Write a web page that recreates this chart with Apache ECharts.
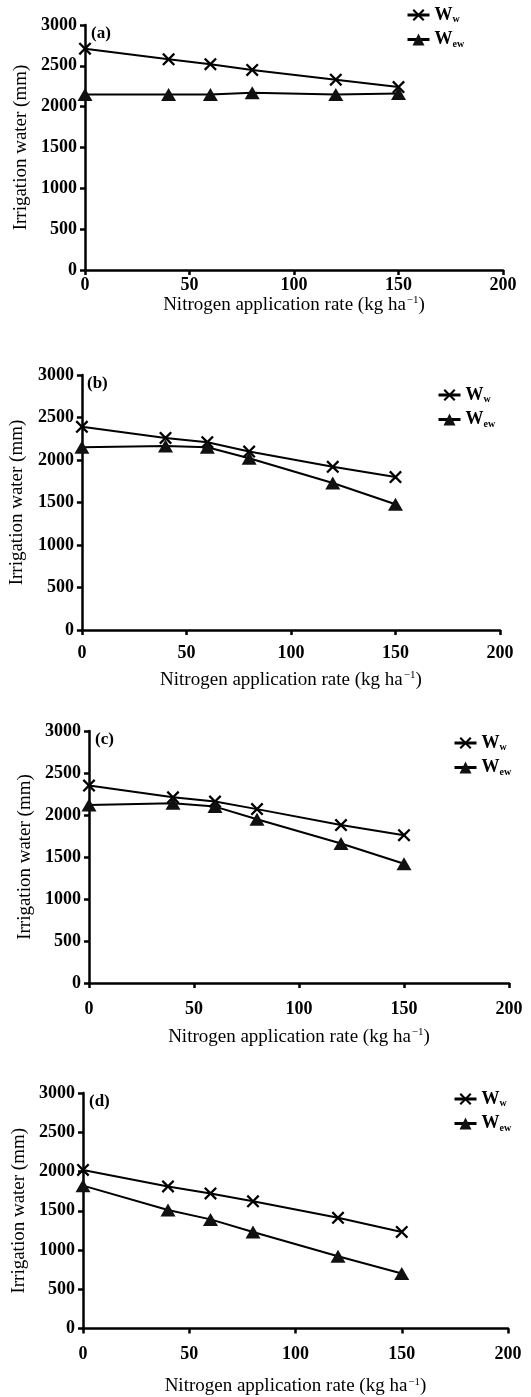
<!DOCTYPE html>
<html>
<head>
<meta charset="utf-8">
<script src="https://cdn.jsdelivr.net/npm/echarts@6/dist/echarts.min.js"></script>
<style>
    html, body { margin: 0; padding: 0; background: #fff; }
    #main { width: 531px; height: 1397px; }
</style>
</head>
<body>
<div id="main"></div>
<script>
// 施氮量 (kg/ha)
var nRate = [0, 40, 60, 80, 120, 150];
var xTicks = [0, 50, 100, 150, 200];
var yTicks = [0, 500, 1000, 1500, 2000, 2500, 3000];
var panelLabels = ['(a)', '(b)', '(c)', '(d)'];

// 各面板灌溉水量 (mm)
var wwA = [2710, 2580, 2520, 2450, 2330, 2240];
var wewA = [2150, 2150, 2150, 2170, 2150, 2160];
var wwB = [2390, 2260, 2210, 2100, 1920, 1800];
var wewB = [2150, 2165, 2150, 2020, 1730, 1480];
var wwC = [2350, 2210, 2160, 2070, 1880, 1760];
var wewC = [2120, 2140, 2100, 1950, 1660, 1420];
var wwD = [2020, 1810, 1720, 1620, 1410, 1230];
var wewD = [1820, 1510, 1390, 1230, 920, 700];

var wwData = [wwA, wwB, wwC, wwD];
var wewData = [wewA, wewB, wewC, wewD];

var FONT = '"Liberation Serif", "Times New Roman", serif';
var crossPath = 'path://M0,1.5L1.5,0L6,4.5L10.5,0L12,1.5L7.5,6L12,10.5L10.5,12L6,7.5L1.5,12L0,10.5L4.5,6Z';

// 网格位置
var grids = [
    {left: 85, top: 25, width: 418, height: 245},
    {left: 81, top: 375, width: 419, height: 255},
    {left: 89, top: 731, width: 420, height: 252},
    {left: 83, top: 1093, width: 425, height: 236}
];
var xNameGap = [21, 40, 44, 48];
var xLabelMargin = [6, 14, 17, 17];
var yNameGap = [45, 51, 48, 44];
var legendPos = [
    {left: 406, top: 6},
    {left: 437, top: 386},
    {left: 453, top: 734},
    {left: 453, top: 1090}
];

function pairs(xs, ys) {
    var out = [];
    for (var i = 0; i < xs.length; i++) {
        out.push([xs[i], ys[i]]);
    }
    return out;
}

var option = {
    animation: false,
    backgroundColor: '#fff',
    textStyle: {fontFamily: FONT, color: '#000'},
    grid: [],
    xAxis: [],
    yAxis: [],
    series: [],
    legend: [],
    title: []
};

for (var i = 0; i < 4; i++) {
    var g = grids[i];
    option.grid.push({left: g.left, top: g.top, width: g.width, height: g.height, containLabel: false});
    option.xAxis.push({
        type: 'value',
        gridIndex: i,
        min: xTicks[0],
        max: xTicks[xTicks.length - 1],
        interval: 50,
        name: '{t|Nitrogen application rate (kg ha}{s|\u22121}{t|)}',
        nameLocation: 'middle',
        nameGap: xNameGap[i],
        nameTextStyle: {
            rich: {
                t: {fontFamily: FONT, fontSize: 19, color: '#000'},
                s: {fontFamily: FONT, fontSize: 11, color: '#000', verticalAlign: 'top', padding: [0, 0, 9, 1]}
            }
        },
        axisLine: {lineStyle: {color: '#000', width: 2.5}},
        axisTick: {show: true, length: 5, lineStyle: {color: '#000', width: 2.5}},
        axisLabel: {
            fontFamily: FONT, fontSize: 18, fontWeight: 'bold', color: '#000', margin: xLabelMargin[i],
            formatter: function (v) { return String(v); }
        },
        splitLine: {show: false}
    });
    option.yAxis.push({
        type: 'value',
        gridIndex: i,
        min: yTicks[0],
        max: yTicks[yTicks.length - 1],
        interval: 500,
        name: 'Irrigation water (mm)',
        nameLocation: 'middle',
        nameGap: yNameGap[i],
        nameTextStyle: {fontFamily: FONT, fontSize: 19, color: '#000'},
        axisLine: {show: true, lineStyle: {color: '#000', width: 2.5}},
        axisTick: {show: true, length: 5, lineStyle: {color: '#000', width: 2.5}},
        axisLabel: {
            fontFamily: FONT, fontSize: 18, fontWeight: 'bold', color: '#000', margin: 8,
            formatter: function (v) { return String(v); }
        },
        splitLine: {show: false}
    });
    option.series.push({
        name: 'Ww',
        type: 'line',
        xAxisIndex: i,
        yAxisIndex: i,
        data: pairs(nRate, wwData[i]),
        symbol: crossPath,
        symbolSize: 13,
        lineStyle: {color: '#000', width: 2},
        itemStyle: {color: '#000'}
    });
    option.series.push({
        name: 'Wew',
        type: 'line',
        xAxisIndex: i,
        yAxisIndex: i,
        data: pairs(nRate, wewData[i]),
        symbol: 'triangle',
        symbolSize: [15, 13],
        lineStyle: {color: '#000', width: 2},
        itemStyle: {color: '#111'}
    });
    option.legend.push({
        orient: 'vertical',
        left: legendPos[i].left,
        top: legendPos[i].top,
        padding: 0,
        itemWidth: 22,
        itemHeight: 15,
        itemGap: 6,
        data: ['Ww', 'Wew'],
        lineStyle: {width: 3},
        formatter: function (name) {
            return name === 'Ww' ? '{b|W}{s|w}' : '{b|W}{s|ew}';
        },
        textStyle: {
            rich: {
                b: {fontFamily: FONT, fontSize: 18, fontWeight: 'bold', color: '#000'},
                s: {fontFamily: FONT, fontSize: 10, fontWeight: 'bold', color: '#000', verticalAlign: 'bottom', padding: [9, 0, 0, 0]}
            }
        }
    });
    option.title.push({
        text: panelLabels[i],
        left: g.left + 6,
        top: g.top,
        padding: 0,
        textStyle: {fontFamily: FONT, fontSize: 17, fontWeight: 'bold', color: '#000'}
    });
}

var myChart = echarts.init(document.getElementById('main'));
myChart.setOption(option);
</script>
</body>
</html>
